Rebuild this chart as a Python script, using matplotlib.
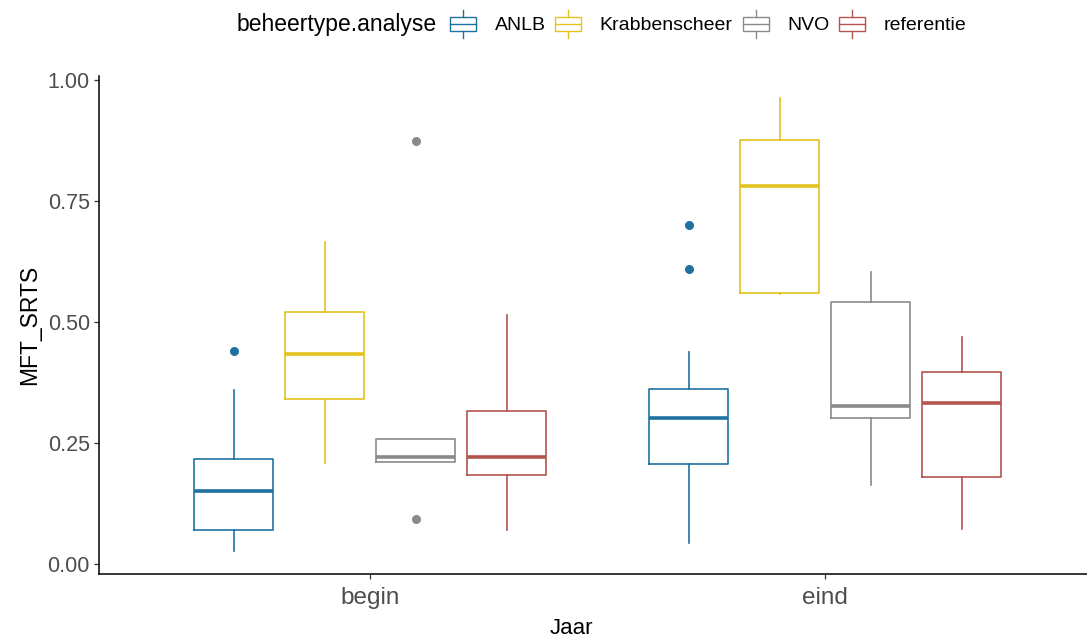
import matplotlib
matplotlib.use('Agg')
import matplotlib.pyplot as plt
from matplotlib.patches import Rectangle
from matplotlib.lines import Line2D
from matplotlib.legend_handler import HandlerBase

# ---------------- data ----------------
jaar = ['begin', 'eind']
types = ['ANLB', 'Krabbenscheer', 'NVO', 'referentie']
colors = ['#1F72A0', '#E3C21C', '#8A8A8A', '#B4544E']

# each list: [begin, eind]
whislo = {'ANLB': [0.027, 0.043], 'Krabbenscheer': [0.208, 0.557],
          'NVO': [0.210, 0.163], 'referentie': [0.070, 0.072]}
q1 = {'ANLB': [0.070, 0.207], 'Krabbenscheer': [0.341, 0.559],
      'NVO': [0.210, 0.301], 'referentie': [0.183, 0.179]}
med = {'ANLB': [0.151, 0.302], 'Krabbenscheer': [0.433, 0.781],
       'NVO': [0.221, 0.326], 'referentie': [0.221, 0.333]}
q3 = {'ANLB': [0.216, 0.361], 'Krabbenscheer': [0.521, 0.876],
      'NVO': [0.258, 0.541], 'referentie': [0.316, 0.397]}
whishi = {'ANLB': [0.360, 0.437], 'Krabbenscheer': [0.665, 0.962],
          'NVO': [0.258, 0.604], 'referentie': [0.514, 0.468]}
fliers = {'ANLB': [[0.440], [0.700, 0.610]], 'Krabbenscheer': [[], []],
          'NVO': [[0.092, 0.874], []], 'referentie': [[], []]}

yticks = [0.00, 0.25, 0.50, 0.75, 1.00]
ytick_labels = ['0.00', '0.25', '0.50', '0.75', '1.00']

# ---------------- figure ----------------
W, H = 1087, 637
fig = plt.figure(figsize=(W / 100, H / 100), dpi=100)
left, right, top, bottom = 99, 1087, 75.5, 573.5
ax = fig.add_axes([left / W, (H - bottom) / H, (right - left) / W, (bottom - top) / H])

font = ['Liberation Sans', 'DejaVu Sans']

offsets = [-0.3, -0.1, 0.1, 0.3]
bw = 0.175
for j, t in enumerate(types):
    c = colors[j]
    stats = []
    pos = []
    for i in range(len(jaar)):
        stats.append(dict(med=med[t][i], q1=q1[t][i], q3=q3[t][i],
                          whislo=whislo[t][i], whishi=whishi[t][i],
                          fliers=fliers[t][i]))
        pos.append(i + 1 + offsets[j])
    ax.bxp(stats, positions=pos, widths=bw, showcaps=False,
           boxprops=dict(color=c, lw=1.2),
           whiskerprops=dict(color=c, lw=1.2),
           medianprops=dict(color=c, lw=2.6, solid_capstyle='butt'),
           flierprops=dict(marker='o', markerfacecolor=c, markeredgecolor=c,
                           markersize=5.5, linestyle='none'),
           manage_ticks=False)

ax.set_xlim(1 - (370 - left) / 455, 2 + (right - 825) / 455)
ax.set_ylim(-0.0197, 1.0088)
ax.set_xticks([1, 2])
ax.set_xticklabels(jaar)
ax.set_yticks(yticks)
ax.set_yticklabels(ytick_labels)
for s in ['top', 'right']:
    ax.spines[s].set_visible(False)
for s in ['left', 'bottom']:
    ax.spines[s].set_linewidth(1.1)
    ax.spines[s].set_color('black')
ax.tick_params(axis='both', direction='out', length=3.5, width=0.9,
               color='#333333', labelcolor='#4D4D4D')
ax.tick_params(axis='x', pad=6)
ax.tick_params(axis='y', pad=3)
for lab in ax.get_xticklabels():
    lab.set_fontfamily(font)
    lab.set_fontsize(17.5)
for lab in ax.get_yticklabels():
    lab.set_fontfamily(font)
    lab.set_fontsize(15.5)
ax.set_xlabel('Jaar', fontsize=16, family=font, color='black')
ax.xaxis.set_label_coords((571 - left) / (right - left), (bottom - 618) / (bottom - top))
ax.set_ylabel('MFT_SRTS', fontsize=16.5, family=font, color='black')
ax.yaxis.set_label_coords((41 - left) / (right - left), 0.5)


# ---------------- legend ----------------
class BoxKey(HandlerBase):
    def create_artists(self, legend, orig_handle, xdescent, ydescent,
                       width, height, fontsize, trans):
        c = orig_handle.get_color()
        x0, y0 = -xdescent, -ydescent
        rect = Rectangle((x0, y0 + 0.22 * height), width,
                         0.56 * height, facecolor='white', edgecolor=c,
                         lw=1.0, transform=trans)
        xm = x0 + 0.5 * width
        l1 = Line2D([xm, xm], [y0 - 0.08 * height, y0 + 0.22 * height], color=c, lw=1.0, transform=trans)
        l2 = Line2D([xm, xm], [y0 + 0.78 * height, y0 + 1.08 * height], color=c, lw=1.0, transform=trans)
        l3 = Line2D([x0, x0 + width], [y0 + 0.5 * height] * 2, color=c, lw=1.0, transform=trans)
        return [rect, l1, l2, l3]


handles = [Line2D([], [], color=c) for c in colors]
fig.text(237 / W, 1 - 24 / H, 'beheertype.analyse', fontsize=16.5, family=font,
         va='center', ha='left', color='black')
leg = fig.legend(handles, types, loc='center left',
                 bbox_to_anchor=(450 / W, 1 - 24 / H), ncol=4, frameon=False,
                 handler_map={Line2D: BoxKey()},
                 prop={'family': font, 'size': 14},
                 handlelength=1.34, handleheight=1.6, handletextpad=0.95,
                 columnspacing=0.5, borderpad=0, borderaxespad=0)

fig.savefig('out.png', dpi=100)
